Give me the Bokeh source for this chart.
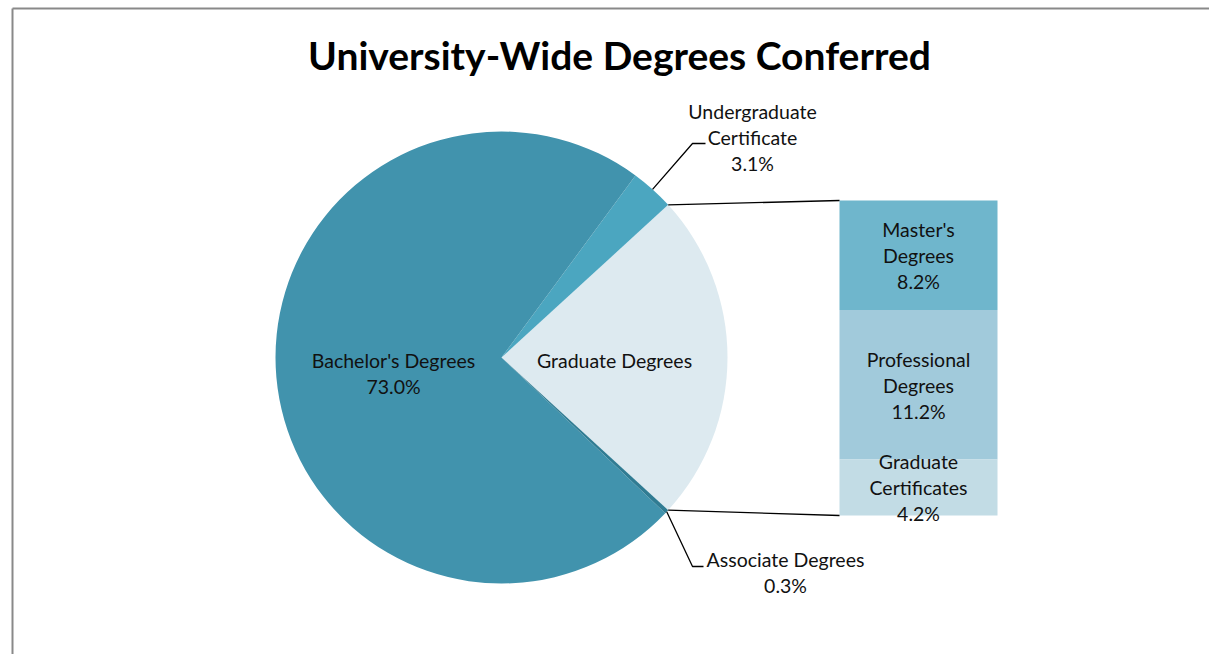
import math
from bokeh.plotting import figure
from bokeh.models import Range1d, ColumnDataSource
from bokeh.core.properties import value
from bokeh.embed import file_html
from bokeh.resources import INLINE

# ---- data ----
pie_labels = ["Graduate Degrees", "Undergraduate Certificate", "Bachelor's Degrees", "Associate Degrees"]
pie_values = [23.6, 3.1, 73.0, 0.3]
pie_colors = ["#DDEAF0", "#4BA6C0", "#4193AD", "#307C93"]

bar_labels = ["Master's Degrees", "Professional Degrees", "Graduate Certificates"]
bar_values = [8.2, 11.2, 4.2]
bar_colors = ["#6FB6CC", "#A1CADB", "#C2DCE5"]

title_text = "University-Wide Degrees Conferred"

# ---- layout ----
W, H = 1209, 654
FONT = "Lato"
cx, cy, R = 501, 297, 226
bar_left, bar_right, bar_top, bar_h = 839, 997, 454, 315
LH = 26

p = figure(width=W, height=H, x_range=Range1d(0, W), y_range=Range1d(0, H),
           output_backend="svg", toolbar_location=None, min_border=0)
p.axis.visible = False
p.grid.visible = False
p.outline_line_color = None
p.background_fill_color = "white"
p.border_fill_color = "white"

# border (left and top edges visible)
p.line(x=[12, 12], y=[0, 646], line_color="#898989", line_width=2)
p.line(x=[12, W], y=[646, 646], line_color="#898989", line_width=2)

# ---- pie wedges ----
total = sum(pie_values)
angles = [v / total * 2 * math.pi for v in pie_values]
start = -angles[0] / 2
starts, ends = [], []
for a in angles:
    starts.append(start)
    ends.append(start + a)
    start += a
src = ColumnDataSource(dict(x=[cx] * 4, y=[cy] * 4, s=starts, e=ends, c=pie_colors))
p.wedge(x="x", y="y", radius=R, start_angle="s", end_angle="e", fill_color="c",
        line_color=None, source=src)

# ---- bar ----
scale = bar_h / sum(bar_values)
tops, bots = [], []
t = bar_top
for v in bar_values:
    tops.append(t)
    bots.append(t - v * scale)
    t -= v * scale
bsrc = ColumnDataSource(dict(l=[bar_left] * 3, r=[bar_right] * 3, t=tops, b=bots, c=bar_colors))
p.quad(left="l", right="r", top="t", bottom="b", fill_color="c", line_color=None, source=bsrc)

# connector lines from graduate wedge edges to bar corners
g_top = (cx + R * math.cos(ends[0]), cy + R * math.sin(ends[0]))
g_bot = (cx + R * math.cos(starts[0]), cy + R * math.sin(starts[0]))
p.line(x=[g_top[0], bar_left], y=[g_top[1], bar_top], line_color="black", line_width=1.3)
p.line(x=[g_bot[0], bar_left], y=[g_bot[1], bar_top - bar_h], line_color="black", line_width=1.3)

# leader lines
def mid_pt(i):
    m = (starts[i] + ends[i]) / 2
    return cx + R * math.cos(m), cy + R * math.sin(m)

ug = mid_pt(1)
p.line(x=[ug[0], 692, 705], y=[ug[1], 511, 511], line_color="black", line_width=1.3)
asc = mid_pt(3)
p.line(x=[asc[0], 692, 703], y=[asc[1], 88, 88], line_color="black", line_width=1.3)

# ---- labels ----
def fmt(v):
    return "%.1f%%" % v

lx, ly, lt = [], [], []
def add_block(lines, x, y_first):
    for k, s in enumerate(lines):
        lx.append(x)
        ly.append(y_first - k * LH)
        lt.append(s)

add_block(["Bachelor's Degrees", fmt(pie_values[2])], 393, 294)
add_block(["Graduate Degrees"], 614, 294)
add_block(["Undergraduate", "Certificate", fmt(pie_values[1])], 752, 543)
add_block(["Associate Degrees", fmt(pie_values[3])], 785, 95)
add_block(["Master's", "Degrees", fmt(bar_values[0])], 918, 425)
add_block(["Professional", "Degrees", fmt(bar_values[1])], 918, 295)
add_block(["Graduate", "Certificates", fmt(bar_values[2])], 918, 193)

p.text(x=lx, y=ly, text=lt, text_font=value(FONT), text_font_size="19.5px",
       text_color="#111111", text_align="center", text_baseline="middle")

p.text(x=[619], y=[600], text=[title_text], text_font=value(FONT), text_font_size="39px",
       text_font_style="bold", text_color="black", text_align="center", text_baseline="middle")

open("out.html", "w").write(file_html(p, INLINE))
